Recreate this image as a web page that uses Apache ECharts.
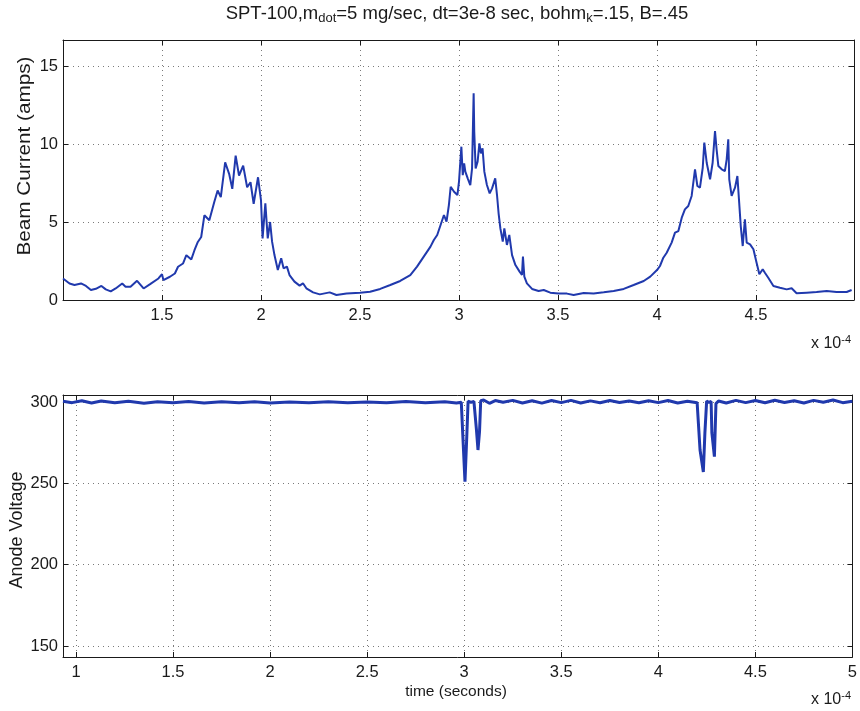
<!DOCTYPE html>
<html>
<head>
<meta charset="utf-8">
<script src="https://cdn.jsdelivr.net/npm/echarts@6.0.0/dist/echarts.min.js"></script>
<style>
  html, body { margin: 0; padding: 0; background: #ffffff; }
  #main { width: 860px; height: 711px; }
</style>
</head>
<body>
<div id="main"></div>
<script>
// ---- data (time in units of 1e-4 s) ----
const beamTime = [1.0,1.033,1.058,1.091,1.116,1.141,1.166,1.194,1.216,1.241,1.266,1.299,1.316,1.341,1.374,1.407,1.44,1.482,1.5,1.507,1.54,1.565,1.581,1.606,1.623,1.648,1.664,1.681,1.698,1.714,1.739,1.764,1.781,1.797,1.819,1.839,1.855,1.872,1.889,1.91,1.93,1.947,1.963,1.985,2.0,2.008,2.022,2.034,2.046,2.056,2.068,2.085,2.102,2.114,2.131,2.144,2.169,2.195,2.212,2.229,2.263,2.297,2.347,2.381,2.432,2.5,2.551,2.602,2.653,2.703,2.754,2.788,2.822,2.856,2.873,2.89,2.907,2.924,2.937,2.949,2.958,2.975,2.992,3.0,3.012,3.019,3.026,3.032,3.044,3.057,3.066,3.074,3.077,3.084,3.094,3.103,3.111,3.119,3.128,3.141,3.155,3.167,3.183,3.192,3.2,3.209,3.221,3.229,3.242,3.254,3.268,3.285,3.306,3.318,3.323,3.33,3.343,3.369,3.402,3.428,3.461,3.503,3.545,3.579,3.63,3.68,3.731,3.781,3.832,3.882,3.933,3.966,4.0,4.015,4.032,4.049,4.074,4.091,4.108,4.125,4.141,4.158,4.175,4.192,4.204,4.217,4.231,4.239,4.251,4.268,4.281,4.293,4.301,4.31,4.327,4.343,4.352,4.36,4.365,4.377,4.394,4.406,4.414,4.423,4.433,4.444,4.453,4.47,4.487,4.503,4.517,4.534,4.545,4.562,4.588,4.621,4.655,4.68,4.705,4.756,4.806,4.857,4.907,4.958,4.983];
const beamCurrent = [1.38,1.06,0.96,1.06,0.9,0.64,0.72,0.9,0.68,0.55,0.74,1.06,0.85,0.85,1.23,0.74,1.02,1.38,1.66,1.28,1.49,1.7,2.13,2.34,2.87,2.6,3.19,3.72,4.04,5.43,5.11,6.28,7.02,6.6,8.83,8.09,7.13,9.26,7.98,8.62,7.23,7.55,6.17,7.87,6.38,3.95,6.2,3.95,5.0,3.74,2.88,1.92,2.67,2.03,2.14,1.6,1.18,0.92,1.07,0.75,0.49,0.36,0.49,0.32,0.41,0.47,0.53,0.71,0.96,1.22,1.6,2.14,2.78,3.42,3.85,4.17,4.81,5.45,5.02,6.09,7.26,6.94,6.73,7.59,9.83,8.0,8.76,8.23,7.8,7.37,8.44,13.25,10.8,8.44,8.87,10.04,9.4,9.72,8.23,7.37,6.84,7.16,7.8,6.73,5.56,4.59,3.74,4.59,3.53,4.17,2.88,2.24,1.82,1.6,2.78,1.5,1.07,0.71,0.58,0.64,0.47,0.41,0.41,0.32,0.45,0.41,0.49,0.58,0.71,0.96,1.22,1.5,1.92,2.18,2.71,3.03,3.68,4.32,4.42,5.28,5.81,6.03,6.67,8.38,7.31,7.2,8.48,10.09,8.8,7.74,8.8,10.83,9.66,8.59,8.38,8.27,9.02,10.3,7.74,6.67,7.2,7.95,6.45,4.74,3.46,5.17,3.68,3.57,3.25,2.39,1.65,1.97,1.75,1.43,0.9,0.79,0.68,0.75,0.43,0.47,0.51,0.58,0.51,0.51,0.64];

const voltTime = [0.933,0.98,1.03,1.08,1.13,1.2,1.27,1.35,1.42,1.5,1.58,1.66,1.75,1.84,1.92,2.0,2.1,2.2,2.3,2.4,2.5,2.6,2.7,2.8,2.9,2.96,2.985,2.993,3.004,3.013,3.02,3.035,3.05,3.058,3.063,3.071,3.079,3.085,3.1,3.13,3.16,3.2,3.25,3.3,3.35,3.4,3.45,3.5,3.55,3.6,3.65,3.7,3.75,3.8,3.85,3.9,3.95,4.0,4.05,4.1,4.15,4.2,4.207,4.215,4.232,4.24,4.249,4.26,4.272,4.276,4.289,4.297,4.31,4.35,4.4,4.45,4.5,4.55,4.6,4.65,4.7,4.75,4.8,4.85,4.9,4.95,5.0];
const anodeVoltage = [300.5,299.6,300.8,299.4,300.6,299.5,300.4,299.3,300.2,299.6,300.3,299.4,300.1,299.5,300.2,299.4,300.0,299.6,300.2,299.5,300.0,299.6,300.3,299.5,300.2,299.4,299.8,279,251,278,300.5,299.8,300.4,299.5,283,270.5,282,300.8,301.2,299.2,300.9,299.8,301.0,299.4,300.8,299.3,300.9,299.6,301.0,299.4,300.7,299.5,300.9,299.7,300.6,299.5,300.8,299.6,300.9,299.4,300.5,299.6,300,270.5,257,281,300.5,299.8,300.3,281,266.4,299,300.6,299.4,301.0,299.6,300.9,299.5,301.1,299.7,300.8,299.4,301.0,299.8,301.2,299.6,300.4];

// ---- tick labels ----
const xTicksTop = [1.5,2,2.5,3,3.5,4,4.5];
const xTicksBottom = [1,1.5,2,2.5,3,3.5,4,4.5,5];
const yTicksTop = [0,5,10,15];
const yTicksBottom = [150,200,250,300];

const FONT = '"Liberation Sans", Arial, Helvetica, sans-serif';
const INK = '#1a1a1a';
const LINE = '#2039ad';
const GRIDC = '#7a7a7a';

function zip(a, b) { return a.map((t, i) => [t, b[i]]); }
const fmt = v => String(Math.round(v * 10) / 10);

function mainX(grid, min, max, ticks) {
  return {
    type: 'value', gridIndex: grid, min: min, max: max, position: 'bottom',
    axisLine: { show: true, onZero: false, lineStyle: { color: INK, width: 1 } },
    axisTick: { show: true, inside: true, length: 5, customValues: ticks, lineStyle: { color: INK } },
    axisLabel: { show: true, customValues: ticks, formatter: fmt, fontFamily: FONT, fontSize: 16.5, color: INK, margin: 7 },
    splitLine: { show: true, lineStyle: { type: [1, 4], color: GRIDC, width: 1 } }
  };
}
function sideX(grid, min, max, ticks) {
  return {
    type: 'value', gridIndex: grid, min: min, max: max, position: 'top',
    axisLine: { show: true, onZero: false, lineStyle: { color: INK, width: 1 } },
    axisTick: { show: true, inside: true, length: 5, customValues: ticks, lineStyle: { color: INK } },
    axisLabel: { show: false }, splitLine: { show: false }
  };
}
function mainY(grid, min, max, ticks) {
  return {
    type: 'value', gridIndex: grid, min: min, max: max, position: 'left',
    axisLine: { show: true, onZero: false, lineStyle: { color: INK, width: 1 } },
    axisTick: { show: true, inside: true, length: 5, customValues: ticks, lineStyle: { color: INK } },
    axisLabel: { show: true, customValues: ticks, formatter: fmt, fontFamily: FONT, fontSize: 16.5, color: INK, margin: 5 },
    splitLine: { show: true, lineStyle: { type: [1, 4], color: GRIDC, width: 1 } }
  };
}
function sideY(grid, min, max, ticks) {
  return {
    type: 'value', gridIndex: grid, min: min, max: max, position: 'right',
    axisLine: { show: true, onZero: false, lineStyle: { color: INK, width: 1 } },
    axisTick: { show: true, inside: true, length: 5, customValues: ticks, lineStyle: { color: INK } },
    axisLabel: { show: false }, splitLine: { show: false }
  };
}

const chart = echarts.init(document.getElementById('main'), null, { renderer: 'canvas' });
chart.setOption({
  backgroundColor: '#ffffff',
  animation: false,
  grid: [
    { left: 63, right: 6, top: 40, height: 260 },
    { left: 63, right: 6, top: 395, height: 262 }
  ],
  xAxis: [
    mainX(0, 1.0, 4.995, xTicksTop),
    sideX(0, 1.0, 4.995, xTicksTop),
    mainX(1, 0.933, 5.0, xTicksBottom),
    sideX(1, 0.933, 5.0, xTicksBottom)
  ],
  yAxis: [
    mainY(0, 0, 16.67, yTicksTop),
    sideY(0, 0, 16.67, yTicksTop),
    mainY(1, 143.3, 304.3, yTicksBottom),
    sideY(1, 143.3, 304.3, yTicksBottom)
  ],
  series: [
    { type: 'line', xAxisIndex: 0, yAxisIndex: 0, data: zip(beamTime, beamCurrent),
      showSymbol: false, lineStyle: { color: LINE, width: 2 }, clip: true },
    { type: 'line', xAxisIndex: 2, yAxisIndex: 2, data: zip(voltTime, anodeVoltage),
      showSymbol: false, lineStyle: { color: LINE, width: 3 }, clip: true }
  ],
  graphic: [
    { type: 'text', x: 457, y: 14, style: {
        text: 'SPT-100,m{sub|dot}=5 mg/sec, dt=3e-8 sec, bohm{sub|k}=.15, B=.45',
        font: '18.5px ' + FONT, fill: INK, align: 'center', verticalAlign: 'middle',
        rich: { sub: { fontSize: 13, fontFamily: FONT, verticalAlign: 'bottom', padding: [8, 0, 0, 0] } } } },
    { type: 'text', x: 25, y: 156, rotation: Math.PI / 2, scaleX: 1.15, style: {
        text: 'Beam Current (amps)', font: '18px ' + FONT, fill: INK, align: 'center', verticalAlign: 'middle' } },
    { type: 'text', x: 17, y: 530, rotation: Math.PI / 2, style: {
        text: 'Anode Voltage', font: '18px ' + FONT, fill: INK, align: 'center', verticalAlign: 'middle' } },
    { type: 'text', x: 456, y: 692, style: {
        text: 'time (seconds)', font: '15.5px ' + FONT, fill: INK, align: 'center', verticalAlign: 'middle' } },
    { type: 'text', x: 811, y: 344, style: {
        text: 'x 10{sup|-4}', font: '16px ' + FONT, fill: INK, align: 'left', verticalAlign: 'middle',
        rich: { sup: { fontSize: 11, fontFamily: FONT, verticalAlign: 'top', padding: [0, 0, 9, 0] } } } },
    { type: 'text', x: 811, y: 700, style: {
        text: 'x 10{sup|-4}', font: '16px ' + FONT, fill: INK, align: 'left', verticalAlign: 'middle',
        rich: { sup: { fontSize: 11, fontFamily: FONT, verticalAlign: 'top', padding: [0, 0, 9, 0] } } } }
  ]
});
</script>
</body>
</html>
